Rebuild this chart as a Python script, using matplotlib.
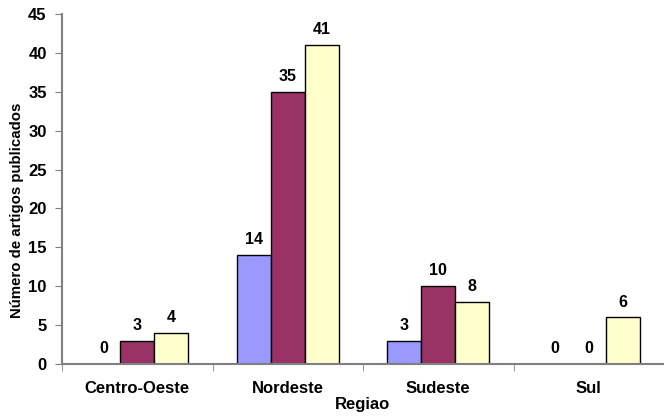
import matplotlib
matplotlib.use("Agg")
import matplotlib.pyplot as plt
import numpy as np

categories = ["Centro-Oeste", "Nordeste", "Sudeste", "Sul"]
serie_a = [0, 14, 3, 0]
serie_b = [3, 35, 10, 0]
serie_c = [4, 41, 8, 6]
colors = ["#9999FF", "#993366", "#FFFFCC"]

plt.rcParams['font.family'] = ['Liberation Sans', 'DejaVu Sans']
plt.rcParams['font.weight'] = 'bold'

fig = plt.figure(figsize=(6.64, 4.18), dpi=100)
ax = fig.add_axes([62/664, 1 - 364/418, (664 - 62)/664, (364 - 14)/418])

x = np.arange(len(categories))
w = 0.225
for i, (vals, c) in enumerate(zip([serie_a, serie_b, serie_c], colors)):
    pos = x + (i - 1) * w
    ax.bar(pos, vals, width=w, color=c, edgecolor="black", linewidth=1.0)
    for p, v in zip(pos, vals):
        ax.text(p, v + 1.0, str(v), ha="center", va="bottom", fontsize=11.5, fontweight="bold")

ax.set_xlim(-0.5, len(categories) - 0.5)
ax.set_ylim(0, 45)
ax.set_yticks(range(0, 46, 5))
ax.set_xticks(x)
ax.set_xticklabels(categories, fontsize=12, fontweight="bold")
ax.set_xticks(np.arange(-0.5, len(categories), 1), minor=True)
ax.tick_params(axis="x", which="major", length=0, pad=12)
ax.tick_params(axis="x", which="minor", length=5, color="#808080", direction="out")
ax.tick_params(axis="y", length=5, color="#808080", labelsize=12, pad=6)
for lab in ax.get_yticklabels():
    lab.set_fontweight("bold")

for s in ["top", "right"]:
    ax.spines[s].set_visible(False)
for s in ["left", "bottom"]:
    ax.spines[s].set_color("#808080")
    ax.spines[s].set_linewidth(1.5)

ax.set_ylabel("Número de artigos publicados", fontsize=10.8, fontweight="bold")
ax.yaxis.set_label_coords(-0.063, 0.44)
ax.set_xlabel("Regiao", fontsize=12, fontweight="bold", labelpad=1)

fig.savefig("out.png", dpi=100)
